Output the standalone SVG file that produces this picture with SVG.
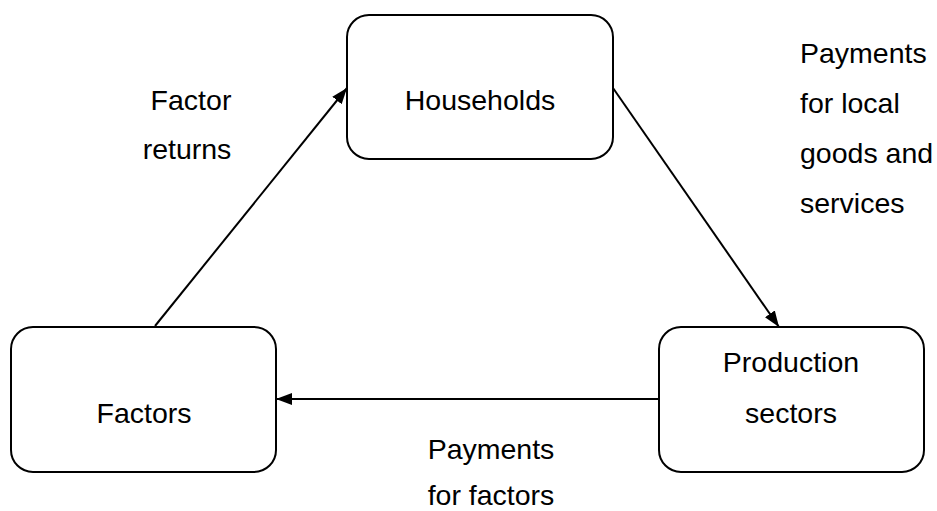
<svg xmlns="http://www.w3.org/2000/svg" width="937" height="511" viewBox="0 0 937 511">
  <style>
    .box { fill: #ffffff; stroke: #000000; stroke-width: 2; }
    .edge { stroke: #000000; stroke-width: 2; fill: none; marker-end: url(#arrow); }
    text { font-family: "Liberation Sans", Arial, sans-serif; font-size: 28.5px; fill: #000000; }
    .mid { text-anchor: middle; }
  </style>
  <defs>
    <marker id="arrow" viewBox="0 0 16 12" refX="16" refY="6" markerWidth="16" markerHeight="12" markerUnits="userSpaceOnUse" orient="auto">
      <path d="M0,0 L16,6 L0,12 Z" fill="#000000"/>
    </marker>
  </defs>
  <rect width="937" height="511" fill="#ffffff"/>

  <g id="connectors">
    <line class="edge" x1="155" y1="326" x2="347" y2="88"/>
    <line class="edge" x1="613" y1="88" x2="779" y2="327"/>
    <line class="edge" x1="659" y1="399" x2="276" y2="399"/>
  </g>

  <g id="households">
    <rect class="box" x="347" y="15" width="266" height="144" rx="22" ry="22"/>
    <text class="mid" x="480" y="110">Households</text>
  </g>

  <g id="factors">
    <rect class="box" x="11" y="327" width="265" height="145" rx="22" ry="22"/>
    <text class="mid" x="144" y="423">Factors</text>
  </g>

  <g id="production">
    <rect class="box" x="659" y="327" width="265" height="145" rx="22" ry="22"/>
    <text class="mid" x="791" y="372">Production</text>
    <text class="mid" x="791" y="423">sectors</text>
  </g>

  <g id="labels">
    <text class="mid" x="191" y="110">Factor</text>
    <text class="mid" x="187" y="159">returns</text>
    <text x="800" y="63">Payments</text>
    <text x="800" y="113">for local</text>
    <text x="800" y="163">goods and</text>
    <text x="800" y="213">services</text>
    <text class="mid" x="491" y="459">Payments</text>
    <text class="mid" x="491" y="505">for factors</text>
  </g>
</svg>
